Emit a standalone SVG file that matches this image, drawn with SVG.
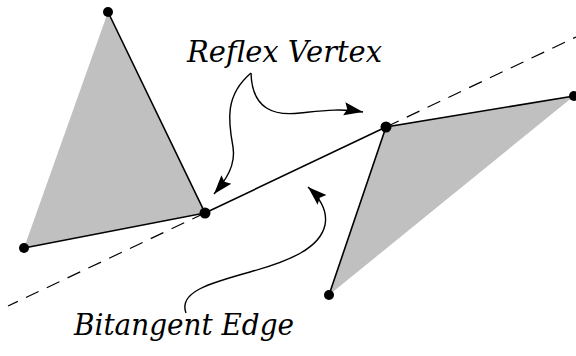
<svg xmlns="http://www.w3.org/2000/svg" width="576" height="356" viewBox="0 0 576 356">
<style>
.poly{fill:#c0c0c0;stroke:none}
.edge{fill:none;stroke:#000;stroke-width:1.6}
.dash{fill:none;stroke:#000;stroke-width:1.2;stroke-dasharray:14,9}
.dot{fill:#000}
.conn{fill:none;stroke:#000;stroke-width:1.4}
.lbl{font-family:'DejaVu Serif',serif;font-style:italic;font-size:30px;fill:#000}
</style>
<defs>
<marker id="ah" markerUnits="userSpaceOnUse" markerWidth="24" markerHeight="16" viewBox="-20 -8 22 16" refX="0" refY="0" orient="auto">
<path d="M0,0 L-19,-6.5 L-16,0 L-19,6.5 z" fill="#000"/>
</marker>
</defs>
<rect width="576" height="356" fill="#fff"/>
<g id="dashed-line">
<path class="dash" d="M205,213 L8,306"/>
<path class="dash" d="M386,127 L576,37"/>
</g>
<g id="left-polygon">
<polygon class="poly" points="108,12 24,248 205,213"/>
<path class="edge" d="M24,248 L205,213 L108,12"/>
<circle class="dot" cx="108" cy="12" r="5"/>
<circle class="dot" cx="24" cy="248" r="5"/>
</g>
<g id="right-polygon">
<polygon class="poly" points="386,127 574,96 329,295"/>
<path class="edge" d="M329,295 L386,127 L574,96"/>
<circle class="dot" cx="574" cy="96" r="5"/>
<circle class="dot" cx="329" cy="295" r="5"/>
</g>
<g id="bitangent-edge">
<path class="edge" d="M205,213 L386,127"/>
<circle class="dot" cx="205" cy="213" r="5.5"/>
<circle class="dot" cx="386" cy="127" r="5.5"/>
</g>
<g id="reflex-label">
<text class="lbl" x="187" y="62" textLength="195" lengthAdjust="spacingAndGlyphs">Reflex Vertex</text>
</g>
<g id="bitangent-label">
<text class="lbl" x="74" y="335" textLength="220" lengthAdjust="spacingAndGlyphs">Bitangent Edge</text>
</g>
<g id="connectors">
<path class="conn" marker-end="url(#ah)" d="M251,73 C225,95 228,120 233,147 C236,165 226,180 214,194"/>
<path class="conn" marker-end="url(#ah)" d="M251,73 C252,110 275,116 300,113 C320,111 340,108 363,112"/>
<path class="conn" marker-end="url(#ah)" d="M186,313 C178,292 210,283 250,272 C290,261 320,248 325,225 C328,210 320,198 308,187"/>
</g>
</svg>
